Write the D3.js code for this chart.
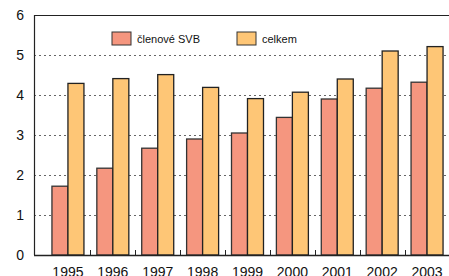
<!DOCTYPE html>
<html>
<head>
<meta charset="utf-8">
<script src="https://cdn.jsdelivr.net/npm/d3@7"></script>
<style>
  body { margin: 0; background: #fff; }
  text { font-family: "Liberation Sans", Arial, sans-serif; }
</style>
</head>
<body>
<div id="chart"></div>
<script>
var years = ["1995", "1996", "1997", "1998", "1999", "2000", "2001", "2002", "2003"];
var clenove = [1.72, 2.17, 2.67, 2.9, 3.05, 3.44, 3.9, 4.17, 4.32];
var celkem = [4.29, 4.41, 4.51, 4.19, 3.91, 4.07, 4.4, 5.1, 5.21];
var yTicks = [0, 1, 2, 3, 4, 5, 6];
var seriesNames = ["členové SVB", "celkem"];
var colors = ["#f5967f", "#fec676"];

var svgWidth = 449;
var svgHeight = 276;
var axisLeft = 34;
var plotTop = 15;
var plotBottom = 255;

var svg = d3.select("#chart")
  .append("svg")
  .attr("width", svgWidth)
  .attr("height", svgHeight);

// scales
var x = d3.scaleBand()
  .domain(years)
  .range([45.5, 449.5]);

var y = d3.scaleLinear()
  .domain([0, 6])
  .range([plotBottom, plotTop]);

// dotted gridlines
svg.append("g")
  .selectAll("line")
  .data(yTicks.filter(d => d > 0 && d < 6))
  .enter()
  .append("line")
  .attr("x1", axisLeft)
  .attr("x2", svgWidth)
  .attr("y1", d => Math.round(y(d)) + 0.5)
  .attr("y2", d => Math.round(y(d)) + 0.5)
  .attr("stroke", "#666")
  .attr("stroke-width", 1.2)
  .attr("stroke-dasharray", "2,3");

// top border
svg.append("line")
  .attr("x1", axisLeft)
  .attr("x2", svgWidth)
  .attr("y1", y(6) + 0.5)
  .attr("y2", y(6) + 0.5)
  .attr("stroke", "#222")
  .attr("stroke-width", 1.2);

// y labels
svg.append("g")
  .selectAll("text")
  .data(yTicks)
  .enter()
  .append("text")
  .attr("x", 24)
  .attr("y", d => y(d) + 5)
  .attr("text-anchor", "end")
  .style("font-size", "14px")
  .style("fill", "#111")
  .text(d => d);

// bars
var barW = 16;
var groups = svg.append("g")
  .selectAll("g")
  .data(years)
  .enter()
  .append("g");

groups.append("rect")
  .attr("x", (d, i) => x(d) + x.bandwidth() / 2 - barW)
  .attr("y", (d, i) => y(clenove[i]))
  .attr("width", barW)
  .attr("height", (d, i) => plotBottom - y(clenove[i]))
  .attr("fill", colors[0])
  .attr("stroke", "#333")
  .attr("stroke-width", 1.3);

groups.append("rect")
  .attr("x", (d, i) => x(d) + x.bandwidth() / 2)
  .attr("y", (d, i) => y(celkem[i]))
  .attr("width", barW)
  .attr("height", (d, i) => plotBottom - y(celkem[i]))
  .attr("fill", colors[1])
  .attr("stroke", "#222")
  .attr("stroke-width", 1.3);

// bottom axis
var bottomAxis = d3.axisBottom(x)
  .tickSize(0)
  .tickPadding(12);
var gx = svg.append("g")
  .attr("transform", `translate(0, ${plotBottom})`)
  .call(bottomAxis);
gx.select(".domain").remove();
gx.selectAll("text")
  .style("font-size", "14px")
  .style("fill", "#111")
  .style("font-family", "Liberation Sans, Arial, sans-serif");

// small ticks between groups
svg.append("g")
  .selectAll("line")
  .data(years.slice(1))
  .enter()
  .append("line")
  .attr("x1", d => Math.round(x(d)) + 0.5)
  .attr("x2", d => Math.round(x(d)) + 0.5)
  .attr("y1", plotBottom)
  .attr("y2", plotBottom - 5)
  .attr("stroke", "#222");

svg.append("line")
  .attr("x1", axisLeft)
  .attr("x2", svgWidth)
  .attr("y1", plotBottom + 0.5)
  .attr("y2", plotBottom + 0.5)
  .attr("stroke", "#222")
  .attr("stroke-width", 1.3);

svg.append("line")
  .attr("x1", axisLeft + 0.5)
  .attr("x2", axisLeft + 0.5)
  .attr("y1", plotTop)
  .attr("y2", plotBottom)
  .attr("stroke", "#222")
  .attr("stroke-width", 1.2);

// legend
var legendX = [112, 237];
var legend = svg.append("g")
  .selectAll("g")
  .data(seriesNames)
  .enter()
  .append("g")
  .attr("transform", (d, i) => `translate(${legendX[i]}, 32)`);

legend.append("rect")
  .attr("width", 19)
  .attr("height", 13)
  .attr("fill", (d, i) => colors[i])
  .attr("stroke", "#333");

legend.append("text")
  .attr("x", 25)
  .attr("y", 10.5)
  .style("font-size", "11px")
  .style("fill", "#111")
  .text(d => d);
</script>
</body>
</html>
